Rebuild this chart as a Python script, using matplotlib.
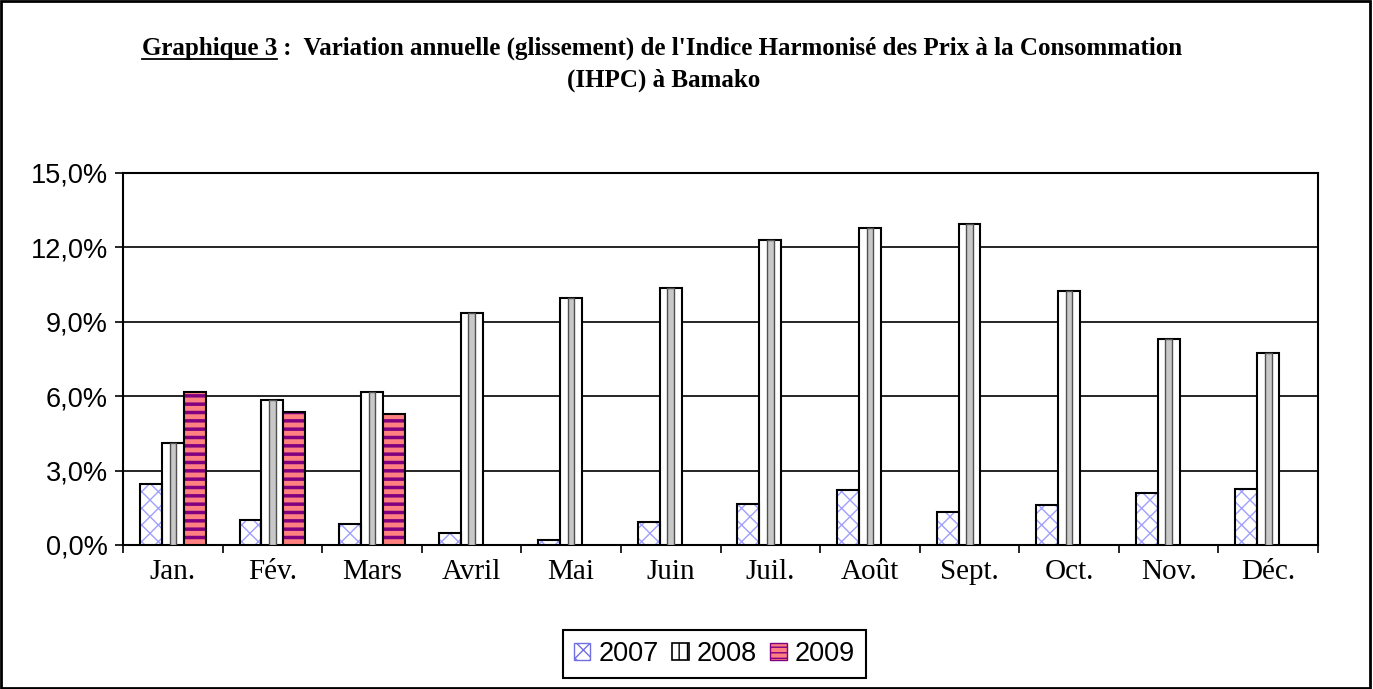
import numpy as np
import matplotlib
matplotlib.use("Agg")
import matplotlib.pyplot as plt
from matplotlib.patches import Patch, Rectangle
from matplotlib.ticker import FuncFormatter, MultipleLocator

mois = ["Jan.", "Fév.", "Mars", "Avril", "Mai", "Juin",
        "Juil.", "Août", "Sept.", "Oct.", "Nov.", "Déc."]
v2007 = [2.45, 1.0, 0.85, 0.5, 0.2, 0.92, 1.65, 2.2, 1.33, 1.6, 2.1, 2.25]
v2008 = [4.1, 5.85, 6.15, 9.35, 9.95, 10.35, 12.3, 12.77, 12.95, 10.25, 8.3, 7.75]
v2009 = [6.15, 5.35, 5.3]
annees = ["2007", "2008", "2009"]

fig = plt.figure(figsize=(13.73, 6.89), dpi=100)
ax = fig.add_axes([0.0896, 0.209, 0.8704, 0.540])

x = np.arange(len(mois))
w = 0.22

# 2007 : motif ondulé bleu
with plt.rc_context({"hatch.linewidth": 1.0}):
    ax.bar(x - w, v2007, w, color="white", edgecolor="#a0a0ff", hatch="xx", linewidth=0, zorder=3)
    h07 = Patch(facecolor="white", edgecolor="#7070e0", hatch="xx", linewidth=1.0)
ax.bar(x - w, v2007, w, color="none", edgecolor="black", linewidth=1.5, zorder=4)
# 2008 : blanc avec bande grise verticale
ax.bar(x, v2008, w, color="white", edgecolor="black", linewidth=1.5, zorder=3)
ax.bar(x, v2008, w * 0.3, color="#c8c8c8", edgecolor="#505050", linewidth=1.0, zorder=4)
# 2009 : saumon rayé violet
x9 = x[:len(v2009)] + w
with plt.rc_context({"hatch.linewidth": 2.5}):
    ax.bar(x9, v2009, w, color="#ff8080", edgecolor="#800080", hatch="--", linewidth=0, zorder=3)
    h09 = Patch(facecolor="#ff8080", edgecolor="#800080", hatch="---", linewidth=1.0)
ax.bar(x9, v2009, w, color="none", edgecolor="black", linewidth=1.5, zorder=4)

ax.set_xlim(-0.5, 11.5)
ax.set_ylim(0, 15)
ax.yaxis.set_major_locator(MultipleLocator(3))
ax.yaxis.set_major_formatter(FuncFormatter(lambda v, p: f"{v:.1f}%".replace(".", ",")))
ax.grid(axis="y", color="black", linewidth=1.2, zorder=1)
ax.set_axisbelow(True)

ax.set_xticks(x)
ax.set_xticklabels(mois, fontfamily="Liberation Serif", fontsize=21)
ax.set_xticks(np.arange(-0.5, 12, 1), minor=True)
ax.tick_params(axis="x", which="major", length=0, pad=10)
ax.tick_params(axis="x", which="minor", length=6, width=1.2, direction="out")
ax.tick_params(axis="y", length=6, width=1.2, labelsize=19.5, pad=5)
for lab in ax.get_yticklabels():
    lab.set_fontfamily("Liberation Sans")
for s in ax.spines.values():
    s.set_linewidth(1.5)
    s.set_color("black")

h08 = Patch(facecolor="white", edgecolor="black", hatch="||", linewidth=1.2)
leg = fig.legend([h07, h08, h09], annees, loc="center",
                 bbox_to_anchor=(714.5 / 1373, 1 - 654 / 689), ncol=3,
                 frameon=True, fancybox=False, edgecolor="black", framealpha=1,
                 prop={"family": "Liberation Sans", "size": 19.5},
                 handlelength=0.6, handleheight=0.6, handletextpad=0.3, columnspacing=0.5,
                 borderpad=0.4, borderaxespad=0)
leg.get_frame().set_linewidth(1.5)

# titre avec "Graphique 3" souligné
renderer = fig.canvas.get_renderer()
tprops = dict(family="Liberation Serif", weight="bold", fontsize=18, va="baseline")
part1 = "Graphique 3"
part2 = " :  Variation annuelle (glissement) de l'Indice Harmonisé des Prix à la Consommation"
figw = fig.bbox.width
figh = fig.bbox.height
y1 = 1 - 55 / figh
t1 = fig.text(0, y1, part1, ha="left", **tprops)
t2 = fig.text(0, y1, part2, ha="left", **tprops)
w1 = t1.get_window_extent(renderer).width
w2 = t2.get_window_extent(renderer).width
x0 = (662 - (w1 + w2) / 2) / figw
t1.set_x(x0)
t2.set_x(x0 + w1 / figw)
yu = y1 - 4 / figh
fig.add_artist(plt.Line2D([x0, x0 + w1 / figw], [yu, yu],
                          color="black", linewidth=1.3, transform=fig.transFigure))
fig.text(664 / figw, 1 - 87 / figh, "(IHPC) à Bamako", ha="center", **tprops)

fig.add_artist(Rectangle((0.001, 0.002), 0.997, 0.996, transform=fig.transFigure,
                         fill=False, edgecolor="black", linewidth=2))

fig.savefig("out.png", dpi=100)
